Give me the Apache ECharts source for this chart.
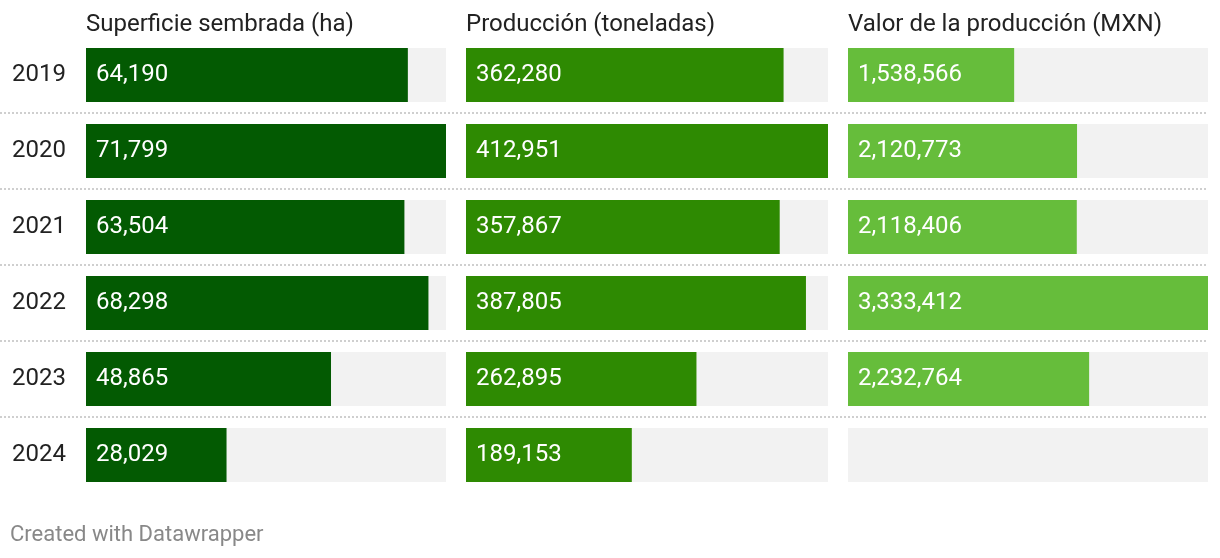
<!DOCTYPE html>
<html>
<head>
<meta charset="utf-8">
<script src="https://cdn.jsdelivr.net/npm/echarts@6/dist/echarts.min.js"></script>
<style>
  html, body { margin: 0; padding: 0; background: #fff; }
  #chart { width: 1220px; height: 558px; }
</style>
</head>
<body>
<div id="chart"></div>
<script>
const years = ['2019', '2020', '2021', '2022', '2023', '2024'];
const superficie = [64190, 71799, 63504, 68298, 48865, 28029];
const produccion = [362280, 412951, 357867, 387805, 262895, 189153];
const valor = [1538566, 2120773, 2118406, 3333412, 2232764, null];
const titles = ['Superficie sembrada (ha)', 'Producción (toneladas)', 'Valor de la producción (MXN)'];

const columns = [superficie, produccion, valor];
const colors = ['#035a02', '#2e8a02', '#66bd3b'];
const lefts = [86, 466, 848];
const widths = [360, 362, 360];
const FONT = 'Roboto, "Noto Sans", sans-serif';
const BAND = 76, TOP = 37;

const grids = [], xAxes = [], yAxes = [], series = [], titleComps = [];
columns.forEach((data, i) => {
  const max = Math.max(...data.filter(v => v != null));
  grids.push({ left: lefts[i], width: widths[i], top: TOP, height: BAND * years.length });
  xAxes.push({ type: 'value', gridIndex: i, min: 0, max: max, show: false });
  yAxes.push({
    type: 'category', gridIndex: i, data: years, inverse: true,
    axisLine: { show: false }, axisTick: { show: false }, splitLine: { show: false },
    axisLabel: i === 0 ? { show: true, color: '#222', fontSize: 24, fontFamily: FONT, margin: 20, padding: [2, 0, 0, 0] } : { show: false }
  });
  series.push({
    type: 'bar', xAxisIndex: i, yAxisIndex: i, barWidth: 54, silent: true,
    data: years.map(() => max), itemStyle: { color: '#f2f2f2' }, z: 1
  });
  series.push({
    type: 'bar', xAxisIndex: i, yAxisIndex: i, barWidth: 54, barGap: '-100%',
    data: data.map(v => v == null ? '-' : v), itemStyle: { color: colors[i] }, z: 2,
    label: {
      show: true, position: 'insideLeft', distance: 10, color: '#fff',
      fontSize: 24, fontFamily: FONT, padding: [2, 0, 0, 0],
      formatter: p => (typeof p.value === 'number') ? p.value.toLocaleString('en-US') : ''
    }
  });
  titleComps.push({
    text: titles[i], left: lefts[i], top: 13, padding: 0,
    textStyle: { color: '#222', fontSize: 24, fontWeight: 'normal', fontFamily: FONT }
  });
});

// separator lines between rows (interior band boundaries only)
grids.push({ left: 0, right: 12, top: TOP + BAND, height: BAND * (years.length - 2) });
xAxes.push({ type: 'value', gridIndex: 3, show: false });
yAxes.push({
  type: 'value', gridIndex: 3, min: 0, max: years.length - 2, interval: 1,
  axisLine: { show: false }, axisTick: { show: false }, axisLabel: { show: false },
  splitLine: { show: true, lineStyle: { color: '#cfcfcf', width: 2, type: [2, 2] } }
});

titleComps.push({
  text: 'Created with Datawrapper', left: 10, top: 524, padding: 0,
  textStyle: { color: '#888', fontSize: 22, fontWeight: 'normal', fontFamily: FONT }
});

const chart = echarts.init(document.getElementById('chart'));
chart.setOption({
  animation: false,
  backgroundColor: '#fff',
  title: titleComps,
  grid: grids,
  xAxis: xAxes,
  yAxis: yAxes,
  series: series
});
</script>
</body>
</html>
